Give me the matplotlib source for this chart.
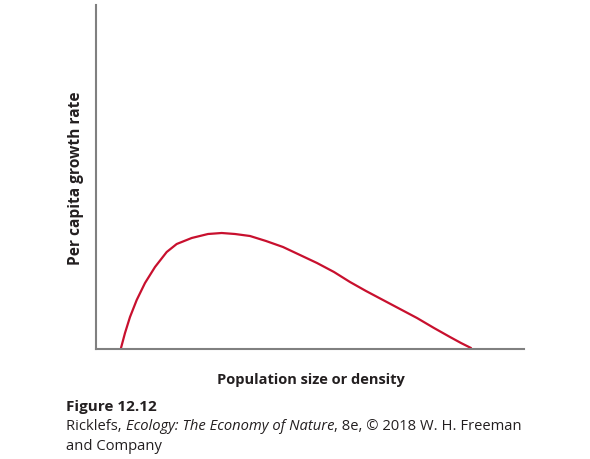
import matplotlib.pyplot as plt

# curve (arbitrary units)
pop_size = [25, 29, 34, 40.7, 49, 59, 70.7, 80.7, 95.7, 112, 125.7, 139, 154, 170, 187, 204, 221, 238, 254, 270, 287, 304, 321, 338, 354, 365, 375]
growth_rate = [1, 16, 32, 49, 66, 82, 97, 105, 111, 115, 116, 115, 113, 108, 102, 94, 86, 77, 67, 58, 49, 40, 31, 21, 12, 6, 1]

x_label = 'Population size or density'
y_label = 'Per capita growth rate'
fig_title = 'Figure 12.12'
credit_parts = [('Ricklefs, ', 'normal'), ('Ecology: The Economy of Nature', 'italic'),
                (', 8e, \u00a9 2018 W. H. Freeman', 'normal')]
credit_line2 = 'and Company'

plt.rcParams['font.family'] = ['Open Sans', 'DejaVu Sans']
txt_color = '#231f20'

fig = plt.figure(figsize=(5.9, 4.59), dpi=100)
ax = fig.add_axes([96/590, 110/459, 428/590, 344/459])

ax.plot(pop_size, growth_rate, color='#c8102e', lw=1.6,
        solid_capstyle='round', solid_joinstyle='round')
ax.set_xlim(0, 428)
ax.set_ylim(0, 344)

for s in ['top', 'right']:
    ax.spines[s].set_visible(False)
for s in ['left', 'bottom']:
    ax.spines[s].set_color('#808080')
    ax.spines[s].set_linewidth(1.5)
ax.set_xticks([])
ax.set_yticks([])

fig.text(76/590, 1 - 178/459, y_label, rotation=90, ha='center', va='center',
         fontsize=11.2, weight='bold', color=txt_color)
fig.text(311/590, 1 - 380/459, x_label, ha='center', va='center',
         fontsize=10.5, weight='bold', color=txt_color)

fig.text(66/590, 1 - 407/459, fig_title, ha='left', va='center',
         fontsize=11, weight='bold', color=txt_color)

# credit line drawn piece by piece so the title part can be italic
renderer = fig.canvas.get_renderer()
x0 = 66
for piece, style in credit_parts:
    t = fig.text(x0/590, 1 - 427/459, piece, ha='left', va='center',
                 fontsize=10.6, style=style, color=txt_color)
    x0 += t.get_window_extent(renderer).width
fig.text(66/590, 1 - 446/459, credit_line2, ha='left', va='center',
         fontsize=10.6, color=txt_color)

plt.savefig('out.png', dpi=100)
